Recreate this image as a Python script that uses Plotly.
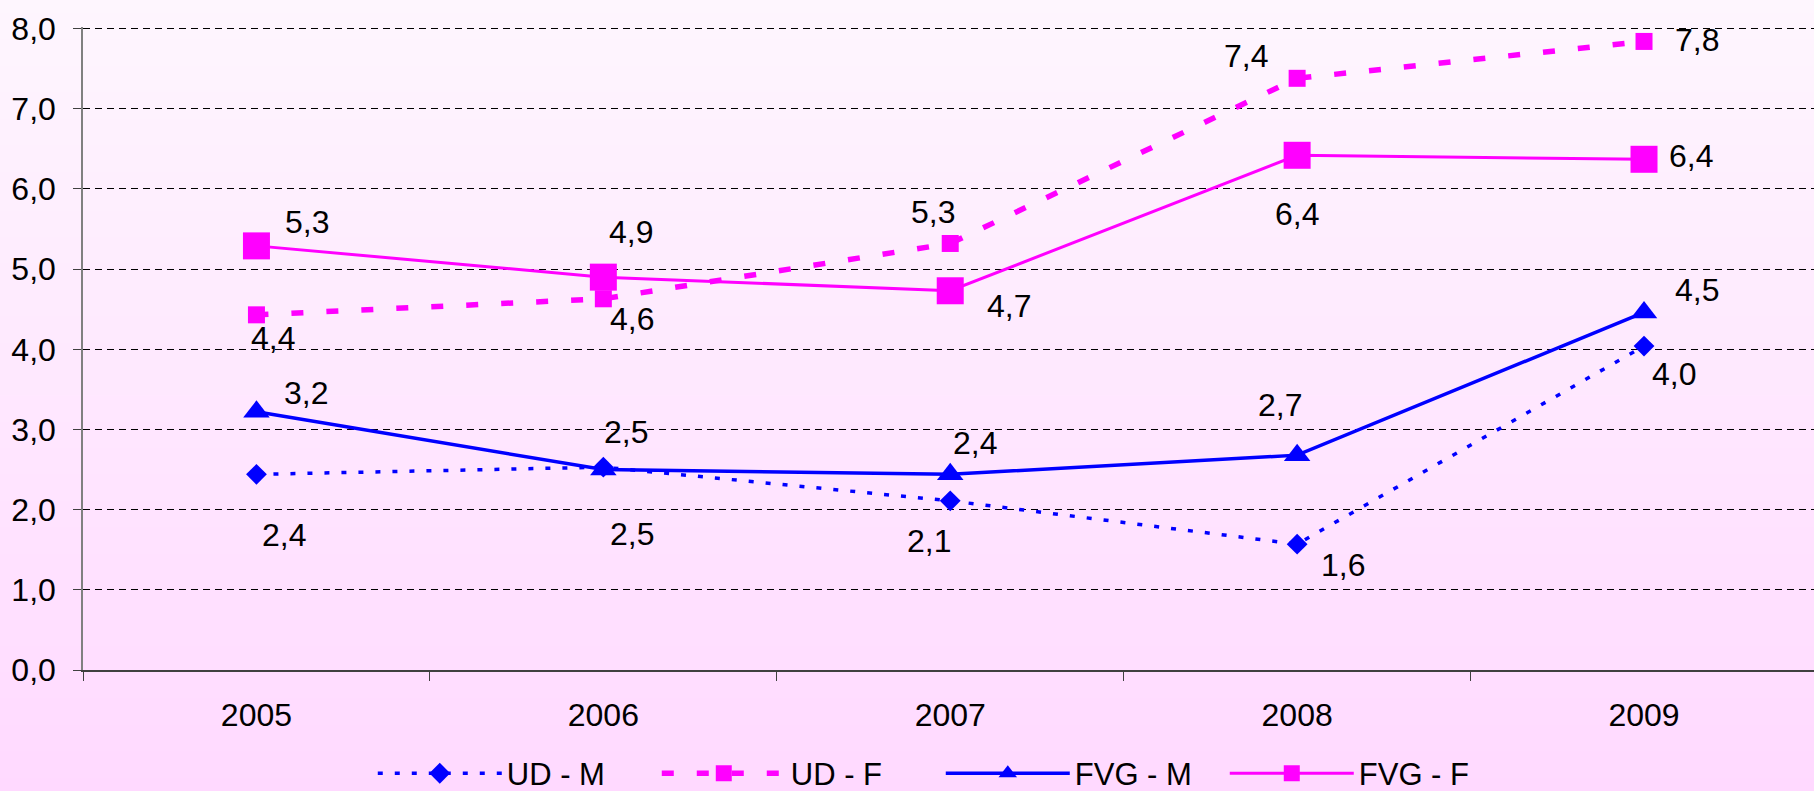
import plotly.graph_objects as go

# data
years = ["2005", "2006", "2007", "2008", "2009"]
ud_m = [2.44, 2.53, 2.11, 1.57, 4.04]
ud_f = [4.43, 4.63, 5.32, 7.38, 7.84]
fvg_m = [3.22, 2.50, 2.44, 2.68, 4.46]
fvg_f = [5.29, 4.90, 4.73, 6.42, 6.37]
y_ticks = [0, 1, 2, 3, 4, 5, 6, 7, 8]

BLUE = "#0000FF"
MAGENTA = "#FF00FF"
FONT = "Liberation Sans, Arial, sans-serif"

W, H = 1814, 791
ML, MR, MT, MB = 83, 0, 27, 121

series = [
    dict(name="UD - M", y=ud_m, color=BLUE, dash="5px,12px", width=3.5,
         symbol="diamond", size=16,
         offsets=[(28, -61), (29, -67), (-21, -40), (46, -21), (30, -28)]),
    dict(name="UD - F", y=ud_f, color=MAGENTA, dash="12px,23px", width=5.5,
         symbol="square", size=17,
         offsets=[(17, -23), (29, -20), (-17, 31), (-51, 22), (53, 1)]),
    dict(name="FVG - M", y=fvg_m, color=BLUE, dash="solid", width=3.5,
         symbol="triangle-up", size=23,
         offsets=[(50, 19), (23, 38), (25, 31), (-17, 50), (53, 22)]),
    dict(name="FVG - F", y=fvg_f, color=MAGENTA, dash="solid", width=3,
         symbol="square", size=27,
         offsets=[(51, 24), (28, 45), (59, -15), (0, -59), (47, 3)]),
]

fig = go.Figure()
for s in series:
    fig.add_trace(go.Scatter(
        x=years, y=s["y"], name=s["name"], mode="lines+markers",
        line=dict(color=s["color"], width=s["width"], dash=s["dash"]),
        marker=dict(symbol=s["symbol"], size=s["size"], color=s["color"],
                    line=dict(width=0)),
    ))

# value labels next to each point
for s in series:
    for i, (yv, (dx, dy)) in enumerate(zip(s["y"], s["offsets"])):
        fig.add_annotation(
            x=i, y=yv, xref="x", yref="y",
            text=f"{yv:.1f}".replace(".", ","), showarrow=False,
            xshift=dx, yshift=dy, xanchor="center", yanchor="middle",
            font=dict(family=FONT, size=32, color="black"),
        )

# vertical background gradient, pale pink at the top to pink at the bottom
pw, ph = W - ML - MR, H - MT - MB
y_top, y_bot = 1 + MT / ph, -MB / ph
x_left = -ML / pw
top_c, bot_c = (254, 246, 254), (255, 217, 255)
n = 60
for i in range(n):
    t = (i + 0.5) / n
    c = tuple(round(a + (b - a) * t) for a, b in zip(top_c, bot_c))
    fig.add_shape(
        type="rect", xref="paper", yref="paper", layer="below",
        x0=x_left, x1=1.01, y0=y_top - (y_top - y_bot) * (i + 1) / n - 0.002,
        y1=y_top - (y_top - y_bot) * i / n,
        fillcolor="rgb(%d,%d,%d)" % c, line=dict(width=0),
    )

fig.update_layout(
    width=W, height=H,
    margin=dict(l=ML, r=MR, t=MT, b=MB, autoexpand=False),
    paper_bgcolor="rgb(255,232,255)",
    plot_bgcolor="rgba(0,0,0,0)",
    separators=",.",
    font=dict(family=FONT, size=32, color="black"),
    showlegend=True,
    legend=dict(
        orientation="h", xref="container", yref="container",
        x=0.2055, xanchor="left", y=0.022, yanchor="middle",
        font=dict(family=FONT, size=31, color="black"),
        bgcolor="rgba(0,0,0,0)", itemwidth=124, entrywidth=145,
    ),
)
fig.update_xaxes(
    type="category", range=[-0.5, 4.49], automargin=False,
    showline=True, linecolor="#404040", linewidth=1.5,
    ticks="outside", tickson="boundaries", ticklen=9, tickcolor="#404040",
    showgrid=False, ticklabelstandoff=16,
    tickfont=dict(family=FONT, size=32, color="black"),
)
fig.update_yaxes(
    range=[0, 8.02], tickvals=y_ticks, tickformat=".1f", automargin=False,
    showline=True, linecolor="#808080", linewidth=1.5,
    ticks="outside", ticklen=8, tickcolor="#404040",
    showgrid=True, gridcolor="black", gridwidth=1, griddash="7px,5px",
    zeroline=False, ticklabelstandoff=11,
    tickfont=dict(family=FONT, size=32, color="black"),
)

# drop the default page margin so the figure fills the window
fig.write_html("out.html", config={"displayModeBar": False},
               post_script="document.body.style.margin='0';")
